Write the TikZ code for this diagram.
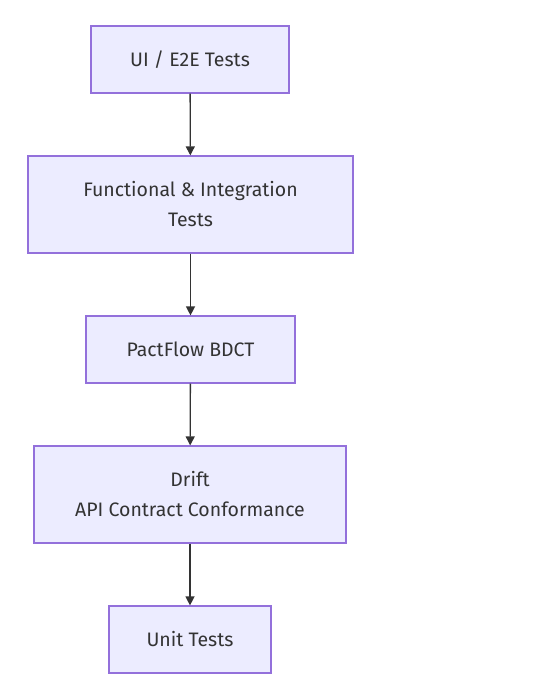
\documentclass[tikz,border=0pt]{standalone}
\usepackage{fontspec}
\setmainfont{Fira Sans}
\usetikzlibrary{arrows.meta}
\definecolor{boxfill}{HTML}{ECECFF}
\definecolor{boxline}{HTML}{9370DB}
\definecolor{ink}{HTML}{333333}
\tikzset{
  stepbox/.style={draw=boxline, fill=boxfill, line width=1.2pt, rectangle, inner sep=0pt,
    text=ink, align=center, font=\fontsize{19.5}{30}\selectfont},
  link/.style={draw=ink, line width=1.3pt, -{Triangle[length=9pt,width=9pt]}}
}
\begin{document}
\begin{tikzpicture}[x=1pt,y=-1pt]
\useasboundingbox (0,0) rectangle (533,694);
\node[stepbox, minimum width=198pt, minimum height=67pt] (ui) at (190,59.5) {UI / E2E Tests};
\node[stepbox, minimum width=325pt, minimum height=97pt] (fi) at (190.5,204.5) {Functional \& Integration\\Tests};
\node[stepbox, minimum width=209pt, minimum height=67pt] (pf) at (190.5,349.5) {PactFlow BDCT};
\node[stepbox, minimum width=312pt, minimum height=97pt] (dr) at (190,494.5) {Drift\\API Contract Conformance};
\node[stepbox, minimum width=162pt, minimum height=67pt] (ut) at (190,639.5) {Unit Tests};
\draw[link] (ui) -- (fi);
\draw[link] (fi) -- (pf);
\draw[link] (pf) -- (dr);
\draw[link] (dr) -- (ut);
\end{tikzpicture}
\end{document}
